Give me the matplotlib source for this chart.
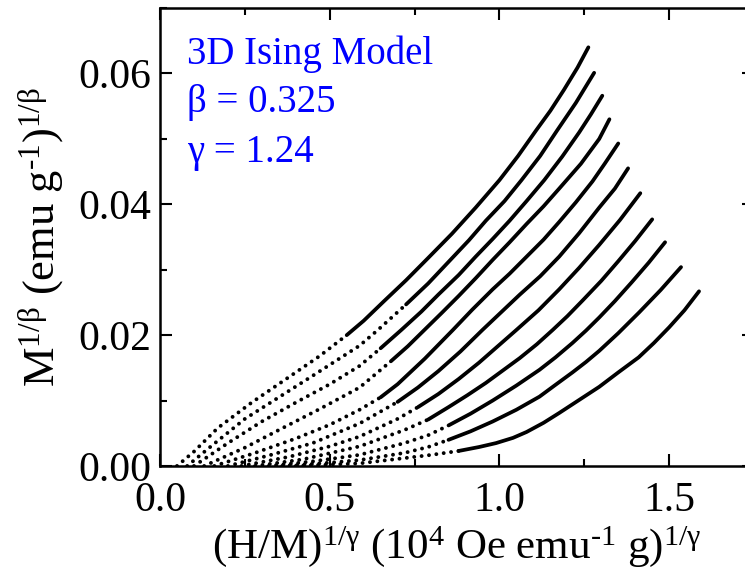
import numpy as np
import matplotlib.pyplot as plt
from matplotlib.ticker import MultipleLocator, FormatStrFormatter

# curves, top (lowest T) to bottom
x1 = [0.05, 0.10, 0.17, 0.27, 0.38, 0.47, 0.55, 0.60, 0.66, 0.725, 0.79, 0.86, 0.93, 1.0, 1.055, 1.108, 1.15, 1.19, 1.23, 1.262]
y1 = [0.0, 0.0022, 0.0058, 0.0097, 0.0136, 0.0168, 0.0200, 0.0222, 0.0252, 0.0284, 0.0318, 0.0355, 0.0395, 0.0437, 0.0474, 0.0513, 0.0543, 0.0575, 0.0609, 0.0640]
x2 = [0.08, 0.15, 0.25, 0.35, 0.45, 0.588, 0.642, 0.725, 0.79, 0.85, 0.91, 0.96, 1.015, 1.065, 1.12, 1.17, 1.225, 1.279]
y2 = [0.0, 0.0030, 0.0072, 0.0105, 0.0138, 0.0184, 0.0208, 0.0247, 0.0279, 0.0312, 0.0345, 0.0375, 0.0405, 0.0437, 0.0474, 0.0513, 0.0555, 0.0601]
x3 = [0.10, 0.20, 0.30, 0.40, 0.50, 0.588, 0.65, 0.711, 0.77, 0.82, 0.88, 0.93, 0.98, 1.03, 1.08, 1.132, 1.185, 1.235, 1.27, 1.303]
y3 = [0.0, 0.0035, 0.0068, 0.0097, 0.0125, 0.0153, 0.0180, 0.0208, 0.0236, 0.0262, 0.0292, 0.0320, 0.0347, 0.0375, 0.0405, 0.0437, 0.0473, 0.0510, 0.0538, 0.0566]
x4 = [0.13, 0.25, 0.35, 0.47, 0.588, 0.68, 0.73, 0.779, 0.83, 0.88, 0.93, 0.98, 1.03, 1.08, 1.13, 1.176, 1.24, 1.294, 1.324]
y4 = [0.0, 0.0028, 0.0055, 0.0087, 0.0120, 0.0160, 0.0183, 0.0208, 0.0234, 0.0260, 0.0287, 0.0315, 0.0342, 0.0370, 0.0397, 0.0424, 0.0462, 0.0500, 0.0530]
x5 = [0.16, 0.28, 0.40, 0.50, 0.588, 0.65, 0.70, 0.78, 0.863, 0.92, 0.98, 1.03, 1.08, 1.13, 1.176, 1.225, 1.274, 1.31, 1.35]
y5 = [0.0, 0.0020, 0.0042, 0.0063, 0.0086, 0.0105, 0.0125, 0.0164, 0.0208, 0.0239, 0.0270, 0.0294, 0.0320, 0.0346, 0.0373, 0.0403, 0.0435, 0.0462, 0.0493]
x6 = [0.20, 0.32, 0.45, 0.588, 0.70, 0.76, 0.82, 0.885, 0.95, 1.005, 1.06, 1.12, 1.176, 1.235, 1.294, 1.34, 1.379]
y6 = [0.0, 0.0016, 0.0035, 0.0065, 0.0098, 0.0120, 0.0145, 0.0175, 0.0208, 0.0235, 0.0262, 0.0290, 0.0320, 0.0356, 0.0395, 0.0424, 0.0455]
x7 = [0.24, 0.38, 0.50, 0.588, 0.70, 0.76, 0.82, 0.88, 0.94, 0.995, 1.05, 1.115, 1.176, 1.235, 1.294, 1.355, 1.415]
y7 = [0.0, 0.0014, 0.0030, 0.0045, 0.0072, 0.0090, 0.0110, 0.0133, 0.0158, 0.0183, 0.0208, 0.0238, 0.0270, 0.0303, 0.0338, 0.0376, 0.0417]
x8 = [0.28, 0.42, 0.588, 0.72, 0.79, 0.85, 0.905, 0.96, 1.01, 1.06, 1.11, 1.157, 1.20, 1.245, 1.30, 1.35, 1.40, 1.45]
y8 = [0.0, 0.0010, 0.0030, 0.0055, 0.0071, 0.0090, 0.0108, 0.0127, 0.0146, 0.0165, 0.0186, 0.0208, 0.0229, 0.0253, 0.0283, 0.0313, 0.0344, 0.0377]
x9 = [0.32, 0.45, 0.588, 0.72, 0.79, 0.85, 0.915, 0.98, 1.05, 1.118, 1.165, 1.215, 1.255, 1.294, 1.34, 1.39, 1.44, 1.488]
y9 = [0.0, 0.0007, 0.0017, 0.0035, 0.0047, 0.0062, 0.0080, 0.0100, 0.0123, 0.0147, 0.0166, 0.0188, 0.0207, 0.0227, 0.0252, 0.0281, 0.0311, 0.0342]
x10 = [0.36, 0.50, 0.588, 0.72, 0.79, 0.85, 0.915, 0.98, 1.05, 1.118, 1.165, 1.215, 1.255, 1.294, 1.35, 1.412, 1.475, 1.535]
y10 = [0.0, 0.0005, 0.0009, 0.0020, 0.0029, 0.0040, 0.0053, 0.0068, 0.0086, 0.0106, 0.0124, 0.0143, 0.0159, 0.0176, 0.0203, 0.0235, 0.0269, 0.0304]
x11 = [0.40, 0.588, 0.72, 0.80, 0.88, 0.94, 0.99, 1.04, 1.08, 1.13, 1.176, 1.235, 1.294, 1.35, 1.41, 1.455, 1.50, 1.545, 1.588]
y11 = [0.0, 0.0004, 0.0012, 0.0017, 0.0023, 0.0029, 0.0035, 0.0043, 0.0052, 0.0066, 0.0081, 0.0101, 0.0121, 0.0143, 0.0166, 0.0188, 0.0212, 0.0238, 0.0267]

# where the measured points get dense enough to look like a solid line
solid_from = [0.55, 0.70, 0.62, 0.62, 0.65, 0.70, 0.75, 0.79, 0.85, 0.85, 0.88]

curves = [(x1, y1), (x2, y2), (x3, y3), (x4, y4), (x5, y5), (x6, y6),
          (x7, y7), (x8, y8), (x9, y9), (x10, y10), (x11, y11)]

plt.rcParams['font.family'] = ['Liberation Serif', 'DejaVu Serif']
plt.rcParams['mathtext.fontset'] = 'custom'
plt.rcParams['mathtext.rm'] = 'Liberation Serif'
plt.rcParams['mathtext.it'] = 'Liberation Serif'

fig = plt.figure(figsize=(7.45, 5.76), dpi=100)
ax = fig.add_axes([0.2148, 0.191, 0.7973, 0.795])

for (xs, ys), xs0 in zip(curves, solid_from):
    xs = np.array(xs)
    ys = np.array(ys)
    k = int(np.argmax(xs >= xs0))
    ax.plot(xs[:k + 1], ys[:k + 1], color='black', lw=2.8,
            linestyle=(0, (0.01, 1.9)), dash_capstyle='round')
    ax.plot(xs[k:], ys[k:], color='black', lw=2.7,
            solid_capstyle='round', solid_joinstyle='round')

ax.set_xlim(0, 1.75)
ax.set_ylim(0, 0.07)
ax.xaxis.set_major_locator(MultipleLocator(0.5))
ax.xaxis.set_minor_locator(MultipleLocator(0.25))
ax.yaxis.set_major_locator(MultipleLocator(0.02))
ax.yaxis.set_minor_locator(MultipleLocator(0.01))
ax.xaxis.set_major_formatter(FormatStrFormatter('%.1f'))
ax.yaxis.set_major_formatter(FormatStrFormatter('%.2f'))
ax.tick_params(which='both', direction='in', top=True, right=True, width=1.5)
ax.tick_params(which='major', length=8.6, labelsize=30)
ax.tick_params(axis='x', which='major', pad=11)
ax.tick_params(axis='y', which='major', pad=6)
ax.tick_params(which='minor', length=5)
for s in ax.spines.values():
    s.set_linewidth(1.8)

ax.set_xlabel(r'(H/M)$^{1/\gamma}$ (10$^4$ Oe emu$^{\text{-}1}$ g)$^{1/\gamma}$', fontsize=31, labelpad=3)
ax.set_ylabel(r'M$^{1/\beta}$ (emu g$^{\text{-}1}$)$^{1/\beta}$', fontsize=32, labelpad=9)

ax.text(0.0455, 0.878, '3D Ising Model', transform=ax.transAxes, color='blue', fontsize=28)
ax.text(0.0455, 0.773, 'β = 0.325', transform=ax.transAxes, color='blue', fontsize=28)
ax.text(0.0455, 0.664, 'γ = 1.24', transform=ax.transAxes, color='blue', fontsize=28)

fig.savefig('out.png', dpi=100)
